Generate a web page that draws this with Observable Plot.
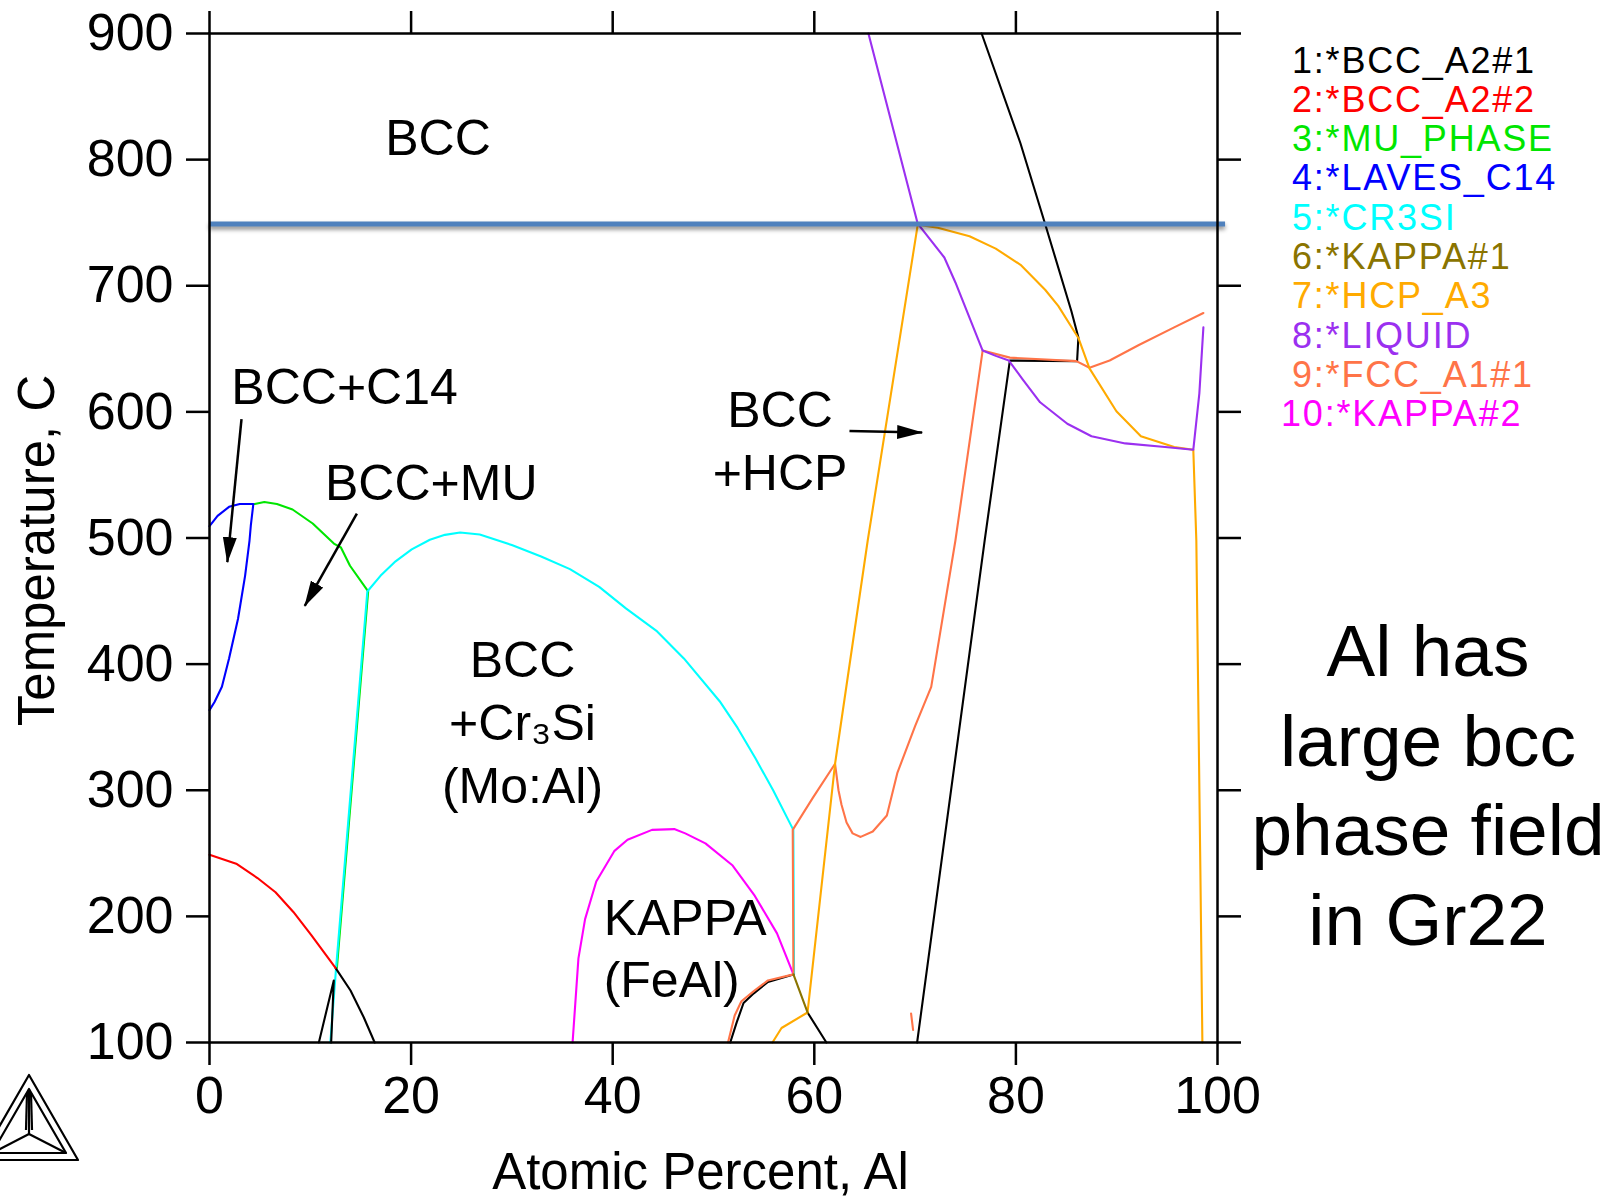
<!DOCTYPE html>
<html>
<head>
<meta charset="utf-8">
<script src="https://cdn.jsdelivr.net/npm/d3@7"></script>
<script src="https://cdn.jsdelivr.net/npm/@observablehq/plot@0.6"></script>
<style>
  html, body { margin: 0; padding: 0; background: #fff; }
  body { font-family: "Liberation Sans", Arial, Helvetica, sans-serif; }
  #wrap { position: relative; width: 1624px; height: 1198px; overflow: hidden; }
  #legend { position: absolute; left: 1292px; top: 40.6px; font-size: 36px; line-height: 39.3px; letter-spacing: 1.8px; white-space: pre; }
  #legend .two { margin-left: -11px; }
  #note { position: absolute; left: 1228px; width: 400px; top: 606px; text-align: center; font-size: 73px; line-height: 89.5px; color: #000; }
  #logo { position: absolute; left: 0; top: 1060px; }
</style>
</head>
<body>
<div id="wrap"></div>
<script>
// ---------- data ----------
const xTicks = [0, 20, 40, 60, 80, 100];
const yTicks = [100, 200, 300, 400, 500, 600, 700, 800, 900];
const xTitle = "Atomic Percent, Al";
const yTitle = "Temperature, C";

const phaseNames = ["1:*BCC_A2#1", "2:*BCC_A2#2", "3:*MU_PHASE", "4:*LAVES_C14", "5:*CR3SI",
                    "6:*KAPPA#1", "7:*HCP_A3", "8:*LIQUID", "9:*FCC_A1#1", "10:*KAPPA#2"];
const phaseColors = ["#000000", "#ff0000", "#00e600", "#0000ff", "#00ffff",
                     "#8a7400", "#ffaa00", "#9b30f0", "#ff7448", "#ff00ff"];

// phase boundaries: [at.% Al, T (C)]
const bccA2_1 = [
  [[76.6, 900], [80.45, 813], [82.9, 749], [85.5, 680], [86.2, 659], [86.07, 640.2], [79.4, 640.7], [76.9, 498], [70.2, 100]],
  [[12.5, 159.2], [13.99, 141.2], [15.3, 120], [16.3, 101.6], [16.4, 100]],
  [[10.85, 100], [12.33, 149.2], [12.07, 100]],
  [[57.93, 154], [55.4, 148], [54.0, 139], [52.98, 131.3], [52.3, 115.9], [51.66, 100]],
  [[59.33, 123.8], [61.2, 100]]
];
const bccA2_2 = [
  [[0, 248.8], [2.65, 241.8], [4.76, 230.4], [6.55, 219.1], [8.32, 203.5], [10.1, 185.2], [12.5, 159.2]]
];
const muPhase = [
  [[4.35, 527], [5.3, 528.6], [6.55, 527], [8.1, 522.6], [10.1, 511.5], [12.2, 495.6], [12.9, 492.5], [13.8, 478], [15.6, 457.6], [12.5, 159.2]]
];
const lavesC14 = [
  [[0, 509.4], [0.8, 517.5], [1.94, 524.7], [3, 527], [4.35, 527], [4.1, 510], [3.97, 498], [3.53, 470], [2.83, 436], [1.94, 404.5], [1.23, 382], [0.5, 370], [0, 363.5]]
];
const cr3si = [
  [[11.93, 100], [12.5, 159.2], [15.6, 457.6], [16.9, 470], [18.4, 481.5], [20, 491], [21.8, 498.6], [23.3, 502.5], [24.8, 504.3], [26.75, 502.8], [29.93, 494.4], [32.84, 485.3], [35.7, 475.3], [38.6, 461.2], [41.25, 444.2], [44.35, 425.9], [47.0, 404.5], [50.55, 370.6], [52.33, 349.4], [54.1, 325.3], [55.87, 299.8], [57.86, 268.6], [57.93, 154]]
];
const kappa1 = [
  [[57.93, 154], [59.33, 123.8]]
];
const hcpA3 = [
  [[55.85, 100], [56.75, 111.5], [59.33, 123.8], [62.06, 321], [65.3, 498], [70.26, 748.3], [72.25, 746], [75.4, 739.3], [78.0, 729.4], [80.46, 716.6], [82.9, 696.8], [84.2, 684], [86.2, 658.6], [87.3, 634.5], [89.97, 600.5], [92.4, 580.7], [95.7, 572.2], [97.6, 570], [97.9, 498], [98.3, 237], [98.5, 100]]
];
const liquid = [
  [[65.37, 900], [70.26, 749.2], [72.9, 722.4], [74.0, 702.6], [76.7, 648.6], [78.0, 644.4], [79.3, 640.7], [80.65, 626], [82.4, 607.6], [85.1, 590.6], [87.5, 580.7], [90.85, 575], [94.8, 572.2], [97.6, 570], [98.2, 614.7], [98.6, 667]]
];
const fccA1_1 = [
  [[51.44, 100], [52.1, 121.4], [52.77, 132.7], [54.0, 140.7], [55.4, 149.2], [57.93, 154], [57.86, 268.6], [59.85, 294], [62.06, 321], [62.4, 300], [62.7, 288.5], [63.2, 274.4], [63.8, 265.8], [64.6, 263], [65.8, 267.3], [67.2, 280], [68.25, 314], [70.0, 350.8], [71.6, 382], [74.0, 498], [76.7, 648.6], [79.4, 643], [86.0, 640.2], [87.3, 635], [89.3, 640.7], [92.2, 653], [95.7, 667], [98.6, 678.4]],
  [[69.6, 123], [69.8, 110]]
];
const kappa2 = [
  [[36.02, 100], [36.6, 166.7], [37.26, 197.8], [38.37, 227.6], [40.15, 251.7], [41.47, 260.7], [43.9, 268.6], [46.1, 269.2], [47.2, 265.8], [49.2, 257.9], [51.9, 240.3], [54.1, 216.2], [56.3, 186.5], [57.93, 154]]
];

// region annotations (data units; anchored at the last line's baseline)
const regionLabels = [
  {text: "BCC", x: 22.67, T: 804},
  {text: "BCC+C14", x: 13.4, T: 606},
  {text: "BCC+MU", x: 22.0, T: 530},
  {text: "BCC\n+HCP", x: 56.6, T: 538},
  {text: "BCC\n+Cr\u2083Si\n(Mo:Al)", x: 31.05, T: 290}
];
const kappaLabel = [{text: "KAPPA\n(FeAl)", x: 39.1, T: 136}];
const arrows = [
  {x1: 3.175, T1: 594.3, x2: 1.77, T2: 480.9},
  {x1: 14.62, T1: 519.3, x2: 9.45, T2: 446.2},
  {x1: 63.49, T1: 584.9, x2: 70.7, T2: 583.6}
];
const refLine = [{T: 749, x1: 0, x2: 100.8}];
const noteLines = ["Al has", "large bcc", "phase field", "in Gr22"];

// ---------- build ----------
const rowsOf = (segs, key) => segs.flatMap((seg, i) => seg.map(([x, T]) => ({seg: key + "-" + i, x, T})));
const phaseLine = (segs, idx, extra = {}) =>
  Plot.line(rowsOf(segs, "p" + idx), {x: "x", y: "T", z: "seg", stroke: phaseColors[idx], strokeWidth: 2.1, ...extra});

const FONT = "'Liberation Sans', Arial, Helvetica, sans-serif";

const svg = Plot.plot({
  width: 1624,
  height: 1198,
  marginLeft: 209,
  marginRight: 407,
  marginTop: 33,
  marginBottom: 156,
  style: {fontFamily: FONT, color: "#000", background: "#fff", overflow: "visible"},
  x: {domain: [0, 100]},
  y: {domain: [100, 900]},
  marks: [
    phaseLine(kappa2, 9),
    phaseLine(muPhase, 2, {dx: 1.4}),
    phaseLine(cr3si, 4, {dx: 0.6}),
    phaseLine(bccA2_1, 0),
    phaseLine(fccA1_1, 8),
    phaseLine(hcpA3, 6),
    phaseLine(liquid, 7),
    phaseLine(kappa1, 5),
    phaseLine(bccA2_2, 1),
    phaseLine(lavesC14, 3),
    Plot.ruleY(refLine, {y: "T", x1: "x1", x2: "x2", stroke: "#4f81bd", strokeWidth: 5}),
    Plot.frame({stroke: "#000", strokeWidth: 2.5}),
    Plot.axisX(xTicks, {anchor: "bottom", tickSize: 23, tickPadding: 11, fontSize: 52, strokeWidth: 2.5, label: null}),
    Plot.axisX(xTicks, {anchor: "top", tickSize: 23, tickFormat: () => "", strokeWidth: 2.5, label: null}),
    Plot.axisY(yTicks, {anchor: "left", tickSize: 23, tickPadding: 13, fontSize: 52, strokeWidth: 2.5, label: null}),
    Plot.axisY(yTicks, {anchor: "right", tickSize: 23, tickFormat: () => "", strokeWidth: 2.5, label: null}),
    Plot.text([xTitle], {frameAnchor: "bottom", text: d => d, textAnchor: "middle", dy: 146, dx: -13, lineAnchor: "bottom", fontSize: 51, fill: "#000"}),
    Plot.text([yTitle], {frameAnchor: "left", text: d => d, textAnchor: "middle", rotate: -90, dx: -156, dy: 12.5, lineAnchor: "bottom", fontSize: 51, fill: "#000"}),
    Plot.text(regionLabels, {x: "x", y: "T", text: "text", textAnchor: "middle", lineAnchor: "bottom", lineHeight: 1.26, fontSize: 50, fill: "#000"}),
    Plot.text(kappaLabel, {x: "x", y: "T", text: "text", textAnchor: "start", lineAnchor: "bottom", lineHeight: 1.25, fontSize: 50, fill: "#000"}),
    Plot.link(arrows, {x1: "x1", y1: "T1", x2: "x2", y2: "T2", stroke: "#000", strokeWidth: 2.5})
  ]
});

// filled arrowheads + shadow on the reference line
const s = d3.select(svg);
const defs = s.insert("defs", ":first-child");
defs.append("marker")
  .attr("id", "headFill").attr("viewBox", "0 0 26 14").attr("refX", 25).attr("refY", 7)
  .attr("markerWidth", 26).attr("markerHeight", 14).attr("markerUnits", "userSpaceOnUse").attr("orient", "auto")
  .append("path").attr("d", "M0,0L26,7L0,14Z").attr("fill", "#000").attr("stroke", "none");
s.selectAll('g[aria-label="link"] path').attr("marker-end", "url(#headFill)");
s.selectAll('g[aria-label="rule"]').style("filter", "drop-shadow(0px 3px 2px rgba(0,0,0,0.45))");

const wrap = document.getElementById("wrap");
wrap.appendChild(svg);

// legend
const legend = document.createElement("div");
legend.id = "legend";
phaseNames.forEach((n, i) => {
  const d = document.createElement("div");
  d.textContent = n;
  d.style.color = phaseColors[i];
  if (n.indexOf(":") > 1) d.className = "two";
  legend.appendChild(d);
});
wrap.appendChild(legend);

// side note
const note = document.createElement("div");
note.id = "note";
noteLines.forEach(t => { const d = document.createElement("div"); d.textContent = t; note.appendChild(d); });
wrap.appendChild(note);

// Thermo-Calc style logo
const logo = document.createElementNS("http://www.w3.org/2000/svg", "svg");
logo.id = "logo";
logo.setAttribute("width", "100");
logo.setAttribute("height", "138");
logo.innerHTML = `<g fill="none" stroke="#000" stroke-width="2.2" stroke-linejoin="round">
  <polygon points="29,15 78,100 -20,100"/>
  <polygon points="29,29 66,93 -8,93"/>
  <line x1="29" y1="74" x2="29" y2="29"/>
  <line x1="26" y1="70" x2="27" y2="33"/>
  <line x1="32" y1="70" x2="31" y2="33"/>
  <line x1="29" y1="74" x2="66" y2="93"/>
  <line x1="29" y1="74" x2="-8" y2="93"/>
</g>`;
wrap.appendChild(logo);
</script>
</body>
</html>
